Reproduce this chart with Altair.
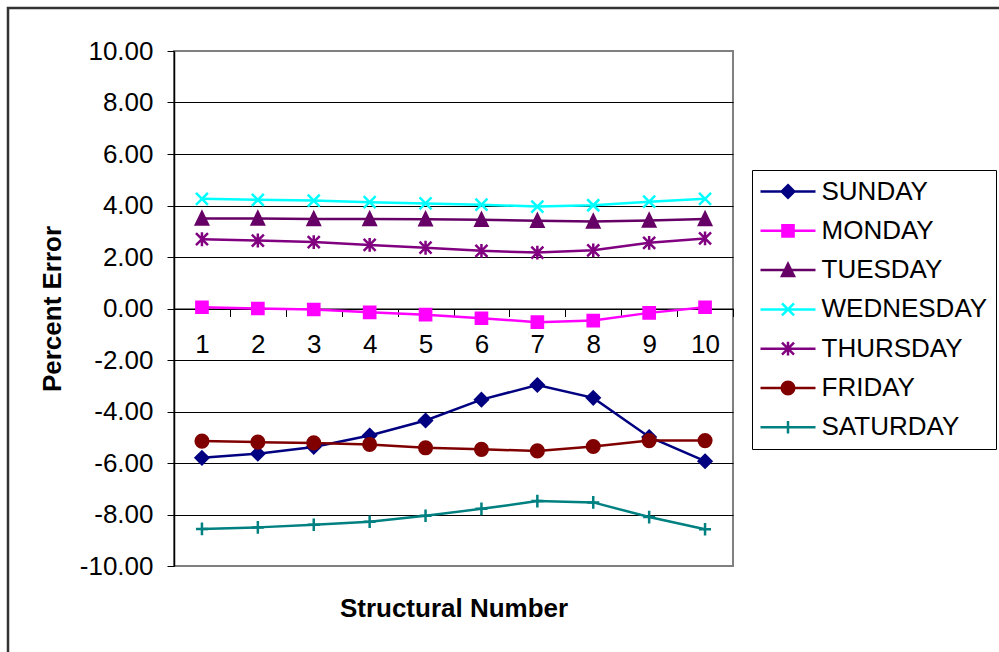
import altair as alt
import pandas as pd

# Structural numbers along the x axis
STRUCTURAL_NUMBERS = [1, 2, 3, 4, 5, 6, 7, 8, 9, 10]

# Series (percent error per structural number)
DAYS = ["SUNDAY", "MONDAY", "TUESDAY", "WEDNESDAY", "THURSDAY", "FRIDAY", "SATURDAY"]
SUNDAY = [-5.80, -5.64, -5.38, -4.93, -4.35, -3.54, -2.97, -3.47, -4.99, -5.93]
MONDAY = [0.05, 0.00, -0.04, -0.15, -0.24, -0.38, -0.53, -0.47, -0.17, 0.05]
TUESDAY = [3.50, 3.50, 3.48, 3.48, 3.47, 3.45, 3.41, 3.38, 3.42, 3.48]
WEDNESDAY = [4.26, 4.22, 4.19, 4.13, 4.08, 4.03, 3.96, 4.01, 4.15, 4.26]
THURSDAY = [2.69, 2.64, 2.58, 2.47, 2.36, 2.24, 2.17, 2.26, 2.55, 2.72]
FRIDAY = [-5.15, -5.19, -5.22, -5.28, -5.41, -5.47, -5.53, -5.36, -5.13, -5.13]
SATURDAY = [-8.56, -8.50, -8.40, -8.28, -8.05, -7.78, -7.48, -7.53, -8.10, -8.57]

Y_TICKS = [-10, -8, -6, -4, -2, 0, 2, 4, 6, 8, 10]

SERIES = [SUNDAY, MONDAY, TUESDAY, WEDNESDAY, THURSDAY, FRIDAY, SATURDAY]
COLORS = ["#000080", "#FF00FF", "#660066", "#00FFFF", "#800080", "#800000", "#008080"]

rows = []
for day, values in zip(DAYS, SERIES):
    for sn, v in zip(STRUCTURAL_NUMBERS, values):
        rows.append({"Day": day, "SN": sn, "Error": v})
df = pd.DataFrame(rows)

FONT = "Liberation Sans"
FS = 26


# ---- marker shapes (unit coordinates, scaled by sqrt(size)/2) ----
def poly(points, k=1.0, closed=True):
    s = "M" + "L".join(f"{x * k:.4f},{y * k:.4f}" for x, y in points)
    return s + ("Z" if closed else "")


def circle(r, k=1.0):
    r = r * k
    return f"M{-r:.4f},0A{r:.4f},{r:.4f},0,1,0,{r:.4f},0A{r:.4f},{r:.4f},0,1,0,{-r:.4f},0Z"


def marker(name, k=1.0):
    if name == "diamond":
        return poly([(0, -1.05), (1.05, 0), (0, 1.05), (-1.05, 0)], k)
    if name == "square":
        return poly([(-0.93, -0.93), (0.93, -0.93), (0.93, 0.93), (-0.93, 0.93)], k)
    if name == "triangle":
        return poly([(0, -1.05), (1.0, 1.0), (-1.0, 1.0)], k)
    if name == "x":
        return poly([(-1, -1), (1, 1)], k, False) + poly([(-1, 1), (1, -1)], k, False)
    if name == "asterisk":
        return (poly([(-1, -1), (1, 1)], k, False) + poly([(-1, 1), (1, -1)], k, False)
                + poly([(0, -1.15), (0, 1.15)], k, False))
    if name == "circle":
        return circle(1.05, k)
    if name == "plus":
        return poly([(-1, 0), (1, 0)], k, False) + poly([(0, -1.05), (0, 1.05)], k, False)


MARKERS = ["diamond", "square", "triangle", "x", "asterisk", "circle", "plus"]
MARK_SIZE = 144          # 6 px per unit
KEY_SIZE = 576           # 12 px per unit
KEY_HALF = 27.5 / 12     # half length of the 55 px key line, in units

plot_shapes = [marker(m) for m in MARKERS]
key_shapes = [f"M{-KEY_HALF:.4f},0H{KEY_HALF:.4f}" + marker(m, 0.5) for m in MARKERS]

W, H = 559, 515
Y0_OFFSET = -(H / 2.0)   # x axis sits on the zero line

x_enc = alt.X(
    "SN:O",
    scale=alt.Scale(paddingInner=0, paddingOuter=0),
    axis=alt.Axis(
        title="Structural Number",
        titleFont=FONT, titleFontSize=FS, titleFontWeight="bold", titleColor="black",
        titleY=300, titleBaseline="middle",
        labelFont=FONT, labelFontSize=FS, labelColor="black", labelAngle=0,
        labelPadding=15,
        offset=Y0_OFFSET,
        domainColor="black", domainWidth=1,
        tickColor="black", tickSize=8, tickWidth=1, tickBand="extent",
        grid=False,
    ),
)

y_enc = alt.Y(
    "Error:Q",
    scale=alt.Scale(domain=[-10, 10], nice=False, zero=False),
    axis=alt.Axis(
        title="Percent Error",
        titleFont=FONT, titleFontSize=FS, titleFontWeight="bold", titleColor="black",
        titleX=-122, titleBaseline="middle", titleAngle=270,
        values=Y_TICKS,
        labelExpr="replace(format(datum.value, '.2f'), '\u2212', '-')",
        labelFont=FONT, labelFontSize=FS, labelColor="black", labelPadding=14,
        domainColor="black", domainWidth=1.5,
        tickColor="black", tickSize=7, tickWidth=1,
        grid=True, gridColor="black", gridWidth=1,
        gridOpacity={"condition": {"test": "abs(datum.value) >= 10", "value": 0}, "value": 1},
    ),
)

day_scale = alt.Scale(domain=DAYS, range=COLORS)

frame = alt.Chart(alt.Data(values=[{}])).mark_rect(
    fill=None, stroke="#333333", strokeWidth=2.5
).encode(
    x=alt.value(-166), x2=alt.value(835), y=alt.value(-43), y2=alt.value(611)
)

lines = alt.Chart(df).mark_line(strokeWidth=2.5).encode(
    x=x_enc,
    y=y_enc,
    stroke=alt.Stroke("Day:N", scale=day_scale, legend=None),
    detail="Day:N",
    order=alt.Order("SN:Q"),
)

points = alt.Chart(df).mark_point(filled=True, strokeWidth=2.5, size=MARK_SIZE, opacity=1).encode(
    x=x_enc,
    y=y_enc,
    fill=alt.Fill("Day:N", scale=day_scale, legend=None),
    stroke=alt.Stroke("Day:N", scale=day_scale, legend=None),
    shape=alt.Shape("Day:N", scale=alt.Scale(domain=DAYS, range=plot_shapes), legend=None),
)

legend = alt.Legend(
    orient="none", legendX=578, legendY=119, title=None,
    strokeColor="black", fillColor="white", padding=8,
    labelFont=FONT, labelFontSize=FS, labelColor="black", labelOffset=20, labelLimit=400,
    symbolSize=KEY_SIZE, symbolStrokeWidth=2.5, symbolOpacity=1, symbolOffset=14.5,
    rowPadding=12.3,
)

# legend keys: a line segment through the series marker
keys = alt.Chart(df).transform_filter("false").mark_point(
    filled=True, strokeWidth=2.5, size=KEY_SIZE
).encode(
    x=x_enc,
    y=y_enc,
    fill=alt.Fill("Day:N", scale=day_scale, legend=legend),
    stroke=alt.Stroke("Day:N", scale=day_scale, legend=legend),
    shape=alt.Shape("Day:N", scale=alt.Scale(domain=DAYS, range=key_shapes), legend=legend),
)

chart = alt.layer(frame, lines, points, keys).resolve_scale(
    shape="independent", fill="independent", stroke="independent"
).properties(
    width=W, height=H,
    autosize=alt.AutoSizeParams(type="none"),
    padding={"left": 174, "top": 51, "right": 999 - 174 - W, "bottom": 652 - 51 - H},
    background="white",
).configure_view(stroke="#808080", strokeWidth=2)

chart.save("out.html", embed_options={"renderer": "svg", "actions": False})
